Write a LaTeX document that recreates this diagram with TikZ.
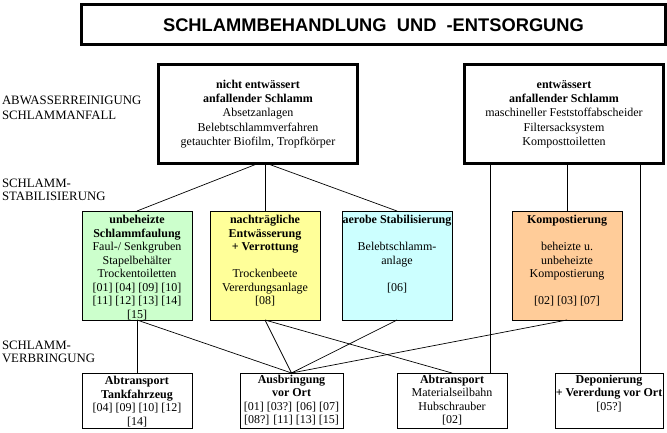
\documentclass[tikz,border=0pt]{standalone}
\usepackage{fontspec}
\setmainfont{Liberation Serif}
\newfontfamily\titlefont{Liberation Sans}
\definecolor{cgreen}{HTML}{CCFFCC}
\definecolor{cyellow}{HTML}{FFFF99}
\definecolor{ccyan}{HTML}{CCFFFF}
\definecolor{corange}{HTML}{FFCC99}
\begin{document}
\begin{tikzpicture}[x=1pt,y=-1pt,
  every node/.style={inner sep=0pt, outer sep=0pt},
  heavy/.style={draw, line width=3pt, fill=white, anchor=north west},
  light/.style={draw, line width=0.9pt, anchor=north west},
  stagebox/.style={light, minimum width=110pt, minimum height=109pt},
  endbox/.style={light, fill=white, minimum height=55pt},
  txt/.style={font=\fontsize{12}{13.5}\selectfont, align=center, anchor=north},
  bigtxt/.style={font=\fontsize{12}{14.3}\selectfont, align=center, anchor=center},
  side/.style={font=\fontsize{12.8}{15}\selectfont, align=left, anchor=north west},
  conn/.style={line width=0.7pt}
]
\useasboundingbox[fill=white] (0,0) rectangle (667,432);

% title
\node[heavy, minimum width=584pt, minimum height=40pt] (title) at (81.5,4.5) {};
\node[font=\titlefont\bfseries\fontsize{18.3}{18.3}\selectfont] (titletext) at ([yshift=-0.5pt]title.center) {SCHLAMMBEHANDLUNG\ \ UND\ \ -ENTSORGUNG};

% side labels
\node[side] (lab1) at (2,96) {ABWASSERREINIGUNG\\SCHLAMMANFALL};
\node[side, font=\fontsize{12.8}{13}\selectfont] (lab2) at (2,179) {SCHLAMM-\\STABILISIERUNG};
\node[side, font=\fontsize{12.8}{13.5}\selectfont] (lab3) at (2,341) {SCHLAMM-\\VERBRINGUNG};

% top boxes
\node[heavy, minimum width=199pt, minimum height=99pt] (b1) at (158.5,64.5) {};
\node[bigtxt] (b1t) at (b1.center) {\textbf{nicht entwässert}\\\textbf{anfallender Schlamm}\\Absetzanlagen\\Belebtschlammverfahren\\getauchter Biofilm, Tropfkörper};
\node[heavy, minimum width=199pt, minimum height=99pt] (b2) at (464.5,64.5) {};
\node[bigtxt] (b2t) at (b2.center) {\textbf{entwässert}\\\textbf{anfallender Schlamm}\\maschineller Feststoffabscheider\\Filtersacksystem\\Komposttoiletten};

% stabilisation boxes
\node[stagebox, fill=cgreen] (g) at (82,211) {};
\node[txt] (gt) at ([yshift=-4.5pt]g.north) {\textbf{unbeheizte}\\\textbf{Schlammfaulung}\\Faul-/ Senkgruben\\Stapelbehälter\\Trockentoiletten\\{[01] [04] [09] [10]}\\{[11] [12] [13] [14]}\\{[15]}};
\node[stagebox, fill=cyellow] (y) at (210,211) {};
\node[txt] (yt) at ([yshift=-4.5pt]y.north) {\textbf{nachträgliche}\\\textbf{Entwässerung}\\\textbf{+ Verrottung}\\[13.5pt]Trockenbeete\\Vererdungsanlage\\{[08]}};
\node[stagebox, fill=ccyan] (c) at (342,211) {};
\node[txt] (ct) at ([yshift=-4.5pt]c.north) {\textbf{aerobe Stabilisierung}\\[13.5pt]Belebtschlamm-\\anlage\\[13.5pt]{[06]}};
\node[stagebox, fill=corange] (k) at (512,211) {};
\node[txt] (kt) at ([yshift=-4.5pt]k.north) {\textbf{Kompostierung}\\[13.5pt]beheizte u.\\unbeheizte\\Kompostierung\\[13.5pt]{[02] [03] [07]}};

% end boxes
\node[endbox, minimum width=110pt] (e1) at (82,373) {};
\node[txt] (e1t) at ([yshift=-3.5pt]e1.north) {\textbf{Abtransport}\\\textbf{Tankfahrzeug}\\{[04] [09] [10] [12]}\\{[14]}};
\node[endbox, minimum width=103pt] (e2) at (240,373) {};
\node[txt] (e2t) at ([yshift=-2pt]e2.north) {\textbf{Ausbringung}\\\textbf{vor Ort}\\{[01] [03?] [06] [07]}\\{[08?] [11] [13] [15]}};
\node[endbox, minimum width=110pt] (e3) at (397,373) {};
\node[txt] (e3t) at ([yshift=-2pt]e3.north) {\textbf{Abtransport}\\Materialseilbahn\\Hubschrauber\\{[02]}};
\node[endbox, minimum width=108pt] (e4) at (555,373) {};
\node[txt] (e4t) at ([yshift=-2pt]e4.north) {\textbf{Deponierung}\\\textbf{+ Vererdung vor Ort}\\{[05?]}};

% connectors from top boxes
\draw[conn] (b1.south) -- (g.north);
\draw[conn] (b1.south -| y.north) -- (y.north);
\draw[conn] ([xshift=9pt]b1.south) -- (c.north);
\coordinate (p1) at ([xshift=-74pt]b2.south);
\coordinate (p2) at ([xshift=76pt]b2.south);
\draw[conn] (p1) -- (p1 |- e3.north);
\draw[conn] (b2.south -| k.north) -- (k.north);
\draw[conn] (p2) -- (p2 |- e4.north);

% connectors to end boxes
\draw[conn] (g.south) -- (e1.north);
\draw[conn] (g.south) -- (e2.north);
\draw[conn] (y.south) -- (e2.north);
\draw[conn] (y.south) -- (e3.north);
\draw[conn] (c.south) -- (e2.north);
\draw[conn] (k.south) -- (e2.north);
\end{tikzpicture}
\end{document}
